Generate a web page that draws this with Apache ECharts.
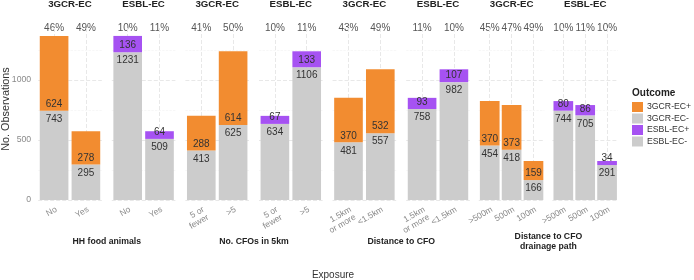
<!DOCTYPE html>
<html>
<head>
<meta charset="utf-8">
<script src="https://cdn.jsdelivr.net/npm/echarts@6/dist/echarts.min.js"></script>
<style>
  html, body { margin: 0; background: #fff; }
  #chart { width: 694px; height: 280px; }
</style>
</head>
<body>
<div id="chart"></div>
<script>
// one entry per facet panel, left to right
const panelTitles = ['3GCR-EC', 'ESBL-EC', '3GCR-EC', 'ESBL-EC', '3GCR-EC', 'ESBL-EC', '3GCR-EC', 'ESBL-EC'];
const panelCategories = [
  ['No', 'Yes'], ['No', 'Yes'],
  ['5 or\nfewer', '>5'], ['5 or\nfewer', '>5'],
  ['1.5km\nor more', '<1.5km'], ['1.5km\nor more', '<1.5km'],
  ['>500m', '500m', '100m'], ['>500m', '500m', '100m'],
];
// negative outcome counts (grey, bottom of stack)
const negativeCounts = [
  [743, 295], [1231, 509], [413, 625], [634, 1106],
  [481, 557], [758, 982], [454, 418, 166], [744, 705, 291],
];
// positive outcome counts (top of stack)
const positiveCounts = [
  [624, 278], [136, 64], [288, 614], [67, 133],
  [370, 532], [93, 107], [370, 373, 159], [80, 86, 34],
];
const percentLabels = [
  ['46%', '49%'], ['10%', '11%'], ['41%', '50%'], ['10%', '11%'],
  ['43%', '49%'], ['11%', '10%'], ['45%', '47%', '49%'], ['10%', '11%', '10%'],
];
const exposureGroups = ['HH food animals', 'No. CFOs in 5km', 'Distance to CFO', 'Distance to CFO\ndrainage path'];
const outcomeNames = ['3GCR-EC+', '3GCR-EC-', 'ESBL-EC+', 'ESBL-EC-'];
const yTickValues = [0, 500, 1000];
const yGridMinor = [250, 750, 1250];

const COLORS = {
  '3GCR-EC+': '#F28C30',
  '3GCR-EC-': '#CCCCCC',
  'ESBL-EC+': '#A652F2',
  'ESBL-EC-': '#CCCCCC',
};
const FONT = 'Liberation Sans';
const Y_MAX = 1433;

const chart = echarts.init(document.getElementById('chart'));

// panel layout (ggplot-like: discrete axis expanded by 0.6 on each side)
const PANEL_LEFT = 35;
const PANEL_W = 70;
const PANEL_STEP = 73.6;
const GRID_TOP = 28;
const GRID_BOTTOM = 80;

const grids = [];
const xAxes = [];
const yAxes = [];
const series = [];

panelTitles.forEach((title, i) => {
  const cats = panelCategories[i];
  const n = cats.length;
  const unit = PANEL_W / (n + 0.2);
  const panelLeft = PANEL_LEFT + i * PANEL_STEP;
  grids.push({
    left: panelLeft + 0.1 * unit,
    width: n * unit,
    top: GRID_TOP,
    bottom: GRID_BOTTOM,
    containLabel: false,
    outerBoundsMode: 'none',
  });

  xAxes.push({
    type: 'category',
    gridIndex: i,
    data: cats,
    axisLine: { show: false },
    axisTick: { show: false },
    splitLine: { show: false },
    axisLabel: {
      interval: 0,
      rotate: 30,
      margin: 5,
      align: 'right',
      verticalAlign: 'top',
      fontSize: 8.5,
      lineHeight: 9,
      color: '#8a8a8a',
      fontFamily: FONT,
    },
  });
  xAxes.push({
    type: 'category',
    gridIndex: i,
    position: 'top',
    data: cats,
    axisLine: { show: false },
    axisTick: { show: false },
    splitLine: { show: false },
    axisLabel: {
      interval: 0,
      margin: -5,
      fontSize: 10,
      color: '#555',
      fontFamily: FONT,
      formatter: (v, idx) => percentLabels[i][idx],
    },
    name: title,
    nameLocation: 'middle',
    nameGap: 18.5,
    nameMoveOverlap: false,
    nameTextStyle: { fontSize: 9.7, fontWeight: 'bold', color: '#222', fontFamily: FONT },
  });

  yAxes.push({
    type: 'value',
    gridIndex: i,
    min: 0,
    max: Y_MAX,
    axisLine: { show: false },
    axisTick: { show: false },
    splitLine: { show: false },
    axisLabel: {
      show: i === 0,
      customValues: yTickValues,
      margin: 7,
      fontSize: 8.7,
      color: '#8a8a8a',
      fontFamily: FONT,
      formatter: v => String(v),
    },
  });

  const kind = i % 2 === 0 ? '3GCR-EC' : 'ESBL-EC';
  const gridLines = [
    ...yTickValues.map(v => ({ yAxis: v, lineStyle: { color: '#e8e8e8', width: 1 } })),
    ...yGridMinor.map(v => ({ yAxis: v, lineStyle: { color: '#f2f2f2', width: 0.6 } })),
    ...cats.map((c, k) => ({ xAxis: k, lineStyle: { color: '#e8e8e8', width: 1 } })),
  ];

  series.push({
    name: kind + '-',
    type: 'bar',
    xAxisIndex: 2 * i,
    yAxisIndex: i,
    stack: 'p' + i,
    barWidth: '90%',
    data: negativeCounts[i],
    itemStyle: { color: COLORS[kind + '-'] },
    label: {
      show: true,
      position: 'insideTop',
      distance: 3.5,
      fontSize: 10,
      color: '#333',
      fontFamily: FONT,
    },
    markLine: {
      silent: true,
      symbol: 'none',
      z: 1,
      animation: false,
      label: { show: false },
      emphasis: { disabled: true },
      data: gridLines,
    },
    animation: false,
  });
  series.push({
    name: kind + '+',
    type: 'bar',
    xAxisIndex: 2 * i,
    yAxisIndex: i,
    stack: 'p' + i,
    barWidth: '90%',
    data: positiveCounts[i],
    itemStyle: { color: COLORS[kind + '+'] },
    label: {
      show: true,
      position: 'insideBottom',
      distance: 1.5,
      fontSize: 10,
      color: '#333',
      fontFamily: FONT,
    },
    animation: false,
  });
});

// group titles under each pair of panels
const groupTexts = exposureGroups.map((g, k) => {
  const left = PANEL_LEFT + 2 * k * PANEL_STEP;
  const right = PANEL_LEFT + (2 * k + 1) * PANEL_STEP + PANEL_W;
  return {
    type: 'text',
    x: (left + right) / 2,
    y: 242,
    style: {
      text: g,
      textAlign: 'center',
      textVerticalAlign: 'middle',
      font: `bold 8.7px "${FONT}"`,
      fill: '#222',
      lineHeight: 10,
    },
  };
});

const option = {
  animation: false,
  grid: grids,
  xAxis: xAxes,
  yAxis: yAxes,
  series,
  legend: {
    data: outcomeNames,
    orient: 'vertical',
    left: 632,
    top: 102,
    padding: 0,
    itemWidth: 11,
    itemHeight: 10,
    itemGap: 1.5,
    icon: 'rect',
    selectedMode: false,
    textStyle: { fontSize: 8.7, color: '#333', fontFamily: FONT, padding: [0, 0, 0, -1] },
  },
  graphic: [
    {
      type: 'text',
      x: 6,
      y: 109,
      rotation: Math.PI / 2,
      style: {
        text: 'No. Observations',
        textAlign: 'center',
        textVerticalAlign: 'middle',
        font: `10.8px "${FONT}"`,
        fill: '#333',
      },
    },
    ...groupTexts,
    {
      type: 'text',
      x: 333,
      y: 275,
      style: {
        text: 'Exposure',
        textAlign: 'center',
        textVerticalAlign: 'middle',
        font: `10px "${FONT}"`,
        fill: '#333',
      },
    },
    {
      type: 'text',
      x: 632,
      y: 93,
      style: {
        text: 'Outcome',
        textAlign: 'left',
        textVerticalAlign: 'middle',
        font: `bold 10px "${FONT}"`,
        fill: '#222',
      },
    },
  ],
};

chart.setOption(option);
</script>
</body>
</html>
